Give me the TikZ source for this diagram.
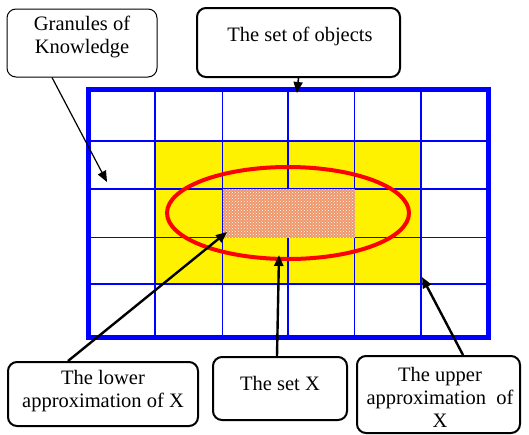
\documentclass[tikz,border=0pt]{standalone}
\usepackage{fontspec}
\setmainfont{Liberation Serif}
\usetikzlibrary{arrows.meta, patterns}
\definecolor{hatch}{RGB}{238,150,105}

\tikzset{
  box/.style={draw, rounded corners=9pt, line width=2pt, inner sep=0pt, fill=white},
  lbl/.style={font=\fontsize{20.5}{23}\selectfont, align=center, inner sep=0pt},
  pointer/.style={-{Triangle[length=11pt,width=9pt]}, line width=2.4pt}
}

\begin{document}
\begin{tikzpicture}[x=1pt, y=-1pt]
  \useasboundingbox (0,0) rectangle (529,434);
  % upper approximation
  \fill[yellow] (155,141) rectangle (421,284);
  % granules
  \foreach \gx in {155,222.5,288,354.5,421}
    \draw[blue, line width=1.2pt] (\gx,89.5) -- (\gx,337);
  \foreach \gy in {141,189,237.5,284}
    \draw[blue, line width=1.2pt] (88.5,\gy) -- (488,\gy);
  % lower approximation
  \fill[hatch, postaction={pattern=crosshatch dots, pattern color=white}]
    (222.5,189) rectangle (354.5,237.5);
  % the set of objects
  \draw[blue, line width=5pt] (88.5,89.5) rectangle (488,337);
  % the set X
  \draw[red, line width=4pt] (288,213) ellipse [x radius=121pt, y radius=46pt];

  % boxes
  \node[box, line width=1pt, minimum width=150pt, minimum height=68pt] (gran) at (82,43) {};
  \node[lbl] (granTxt) at (82,37) {Granules of\\Knowledge};
  \node[box, minimum width=203pt, minimum height=69pt] (obj) at (298.5,42.5) {};
  \node[lbl] (objTxt) at (300,36) {The set of objects};
  \node[box, minimum width=190pt, minimum height=64pt] (low) at (103,394) {};
  \node[lbl] (lowTxt) at (103,391) {The lower\\approximation of X};
  \node[box, minimum width=134pt, minimum height=63pt] (setx) at (280,388.5) {};
  \node[lbl] (setxTxt) at (280,383) {The set X};
  \node[box, minimum width=163pt, minimum height=77pt] (up) at (438.5,394.5) {};
  \node[lbl] (upTxt) at (440,397) {The upper\\approximation\ \ of\\X};

  % pointers
  \coordinate (granTip) at (107,182);
  \coordinate (objTip) at (297,93);
  \coordinate (lowTip) at (227,232);
  \coordinate (setxTip) at (279,255);
  \coordinate (upTip) at (422,277);
  \draw[pointer, line width=1.2pt] ([xshift=-30pt]gran.south) -- (granTip);
  \draw[pointer, line width=1.6pt] (obj.south) -- (objTip);
  \draw[pointer] ([xshift=-35pt]low.north) -- (lowTip);
  \draw[pointer] ([xshift=-3pt]setx.north) -- (setxTip);
  \draw[pointer] ([xshift=24.5pt]up.north) -- (upTip);
\end{tikzpicture}
\end{document}
